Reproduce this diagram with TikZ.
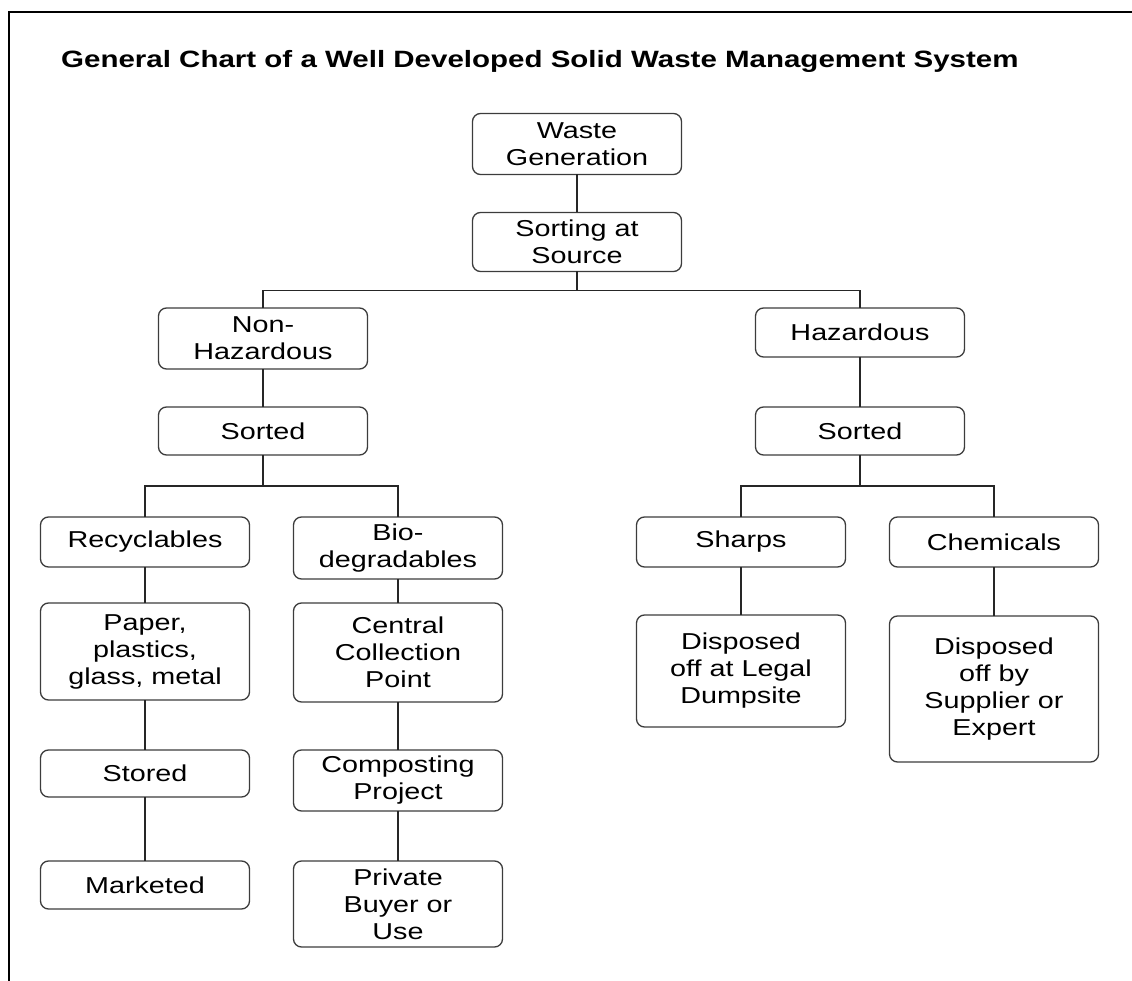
\documentclass[tikz,border=0pt]{standalone}
\usepackage{fontspec}
\setmainfont{Liberation Sans}[FakeStretch=1.25]
\usepackage{tikz}
\usetikzlibrary{positioning, calc}
\definecolor{boxline}{RGB}{60,60,60}

\begin{document}
\begin{tikzpicture}[x=1pt, y=-1pt,
        box/.style={draw=boxline, line width=1.3pt, rounded corners=8pt, minimum width=209pt, minimum height=49pt, align=center, inner sep=2pt, outer sep=0pt, font=\fontsize{23}{27}\selectfont},
        link/.style={draw=black!85, line width=1.2pt}
    ]
    \useasboundingbox (0,0) rectangle (1132,981);

    % Frame and heading
    \draw[line width=2pt] (9,981) -- (9,12.5) -- (1132,12.5);
    \node[anchor=base west, inner sep=0pt, font=\bfseries\fontsize{23.6}{28}\selectfont] (title) at (61,68) {General Chart of a Well Developed Solid Waste Management System};

    % Top of the chart
    \node[box, minimum height=61pt] (gen) at (577,144) {Waste\\Generation};
    \node[box, minimum height=59pt] (src) [below=38pt of gen] {Sorting at\\Source};

    % Non-hazardous side
    \node[box, minimum height=61pt, anchor=north] (nonhaz) at (263,308) {Non-\\Hazardous};
    \node[box, minimum height=48pt] (sortn) [below=38pt of nonhaz] {Sorted};
    \node[box, minimum height=50pt, anchor=north] (recyc) at (145,517) {Recyclables};
    \node[box, minimum height=62pt, anchor=north] (bio) at (398,517) {Bio-\\degradables};
    \node[box, minimum height=97pt] (paper) [below=36pt of recyc] {Paper,\\plastics,\\glass, metal};
    \node[box, minimum height=47pt] (stored) [below=50pt of paper] {Stored};
    \node[box, minimum height=48pt] (marketed) [below=64pt of stored] {Marketed};
    \node[box, minimum height=99pt] (central) [below=24pt of bio] {Central\\Collection\\Point};
    \node[box, minimum height=61pt] (compost) [below=48pt of central] {Composting\\Project};
    \node[box, minimum height=86pt] (buyer) [below=50pt of compost] {Private\\Buyer or\\Use};

    % Hazardous side
    \node[box, minimum height=49pt, anchor=north] (haz) at (860,308) {Hazardous};
    \node[box, minimum height=48pt] (sorth) [below=50pt of haz] {Sorted};
    \node[box, minimum height=50pt, anchor=north] (sharps) at (741,517) {Sharps};
    \node[box, minimum height=50pt, anchor=north] (chem) at (994,517) {Chemicals};
    \node[box, minimum height=112pt] (dump) [below=48pt of sharps] {Disposed\\off at Legal\\Dumpsite};
    \node[box, minimum height=146pt] (supplier) [below=49pt of chem] {Disposed\\off by\\Supplier or\\Expert};

    % Connectors
    \draw[link] (gen) -- (src);
    \draw[link] (src.south) -- ++(0,-19pt) coordinate (fork1);
    \draw[link] (nonhaz.north) |- (fork1) -| (haz.north);
    \draw[link] (nonhaz) -- (sortn);
    \draw[link] (haz) -- (sorth);
    \draw[link] (sortn.south) -- ++(0,-31pt) coordinate (fork2);
    \draw[link] (recyc.north) |- (fork2) -| (bio.north);
    \draw[link] (sorth.south) -- ++(0,-31pt) coordinate (fork3);
    \draw[link] (sharps.north) |- (fork3) -| (chem.north);
    \draw[link] (recyc) -- (paper);
    \draw[link] (paper) -- (stored);
    \draw[link] (stored) -- (marketed);
    \draw[link] (bio) -- (central);
    \draw[link] (central) -- (compost);
    \draw[link] (compost) -- (buyer);
    \draw[link] (sharps) -- (dump);
    \draw[link] (chem) -- (supplier);

\end{tikzpicture}
\end{document}
